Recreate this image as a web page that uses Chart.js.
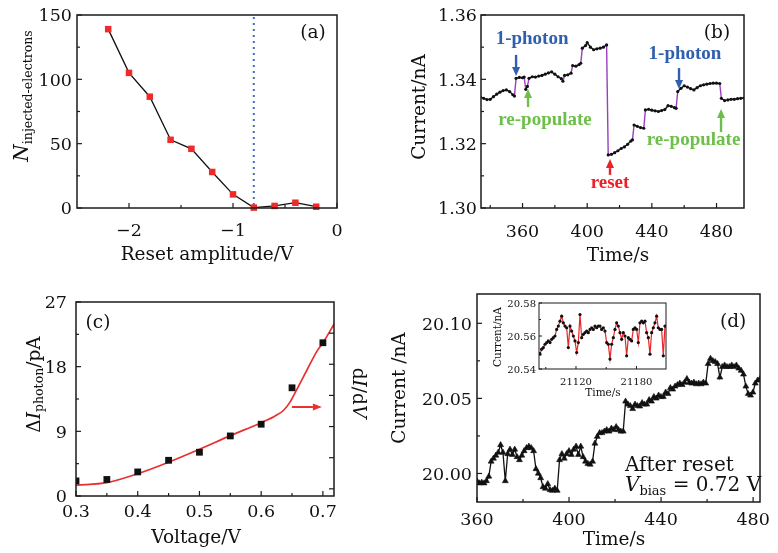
<!DOCTYPE html>
<html><head><meta charset="utf-8">
<script src="https://cdn.jsdelivr.net/npm/chart.js@4.4.0/dist/chart.umd.min.js"></script>
<style>
html,body{margin:0;padding:0;background:#fff;width:778px;height:553px;overflow:hidden}
canvas{position:absolute;left:0;top:0;width:778px;height:553px}
</style></head><body>
<canvas id="ca" width="778" height="553"></canvas>
<canvas id="cb" width="778" height="553"></canvas>
<canvas id="cc" width="778" height="553"></canvas>
<canvas id="cd" width="778" height="553"></canvas>
<canvas id="ci" width="778" height="553"></canvas>
<script>
// ---------- Panel (a) ----------
const aResetAmplitude = [-2.2,-2.0,-1.8,-1.6,-1.4,-1.2,-1.0,-0.8,-0.6,-0.4,-0.2];
const aInjectedElectrons = [139,105,86.5,53,46,28,10.6,0.3,1.6,4.1,1.0];
const aThresholdVoltage = -0.8;
const aXTicks = [-2,-1,0];
const aXTickLabels = ['\u22122','\u22121','0'];
const aYTicks = [0,50,100,150];
const aYTickLabels = ['0','50','100','150'];

// ---------- Panel (b) ----------
const bTime = [334,336,338,340,342,344,346,348,350,352,354,355,356,358,360,361,362,363,364,366,368,370,372,374,376,378,380,382,384,385,386,388,390,391,393,395,396,397,399,400,402,404,406,408,410,412,413,415,417,419,421,423,425,427,428,429,431,433,435,436,438,440,442,444,446,448,450,452,454,455,456,458,460,462,464,466,468,470,472,474,476,478,480,482,483,485,487,489,491,493,495,497];
const bCurrent = [1.3345,1.3341,1.3337,1.3338,1.3346,1.3354,1.3360,1.3365,1.3367,1.3362,1.3352,1.3348,1.3403,1.3406,1.3405,1.3407,1.3369,1.3378,1.3403,1.3408,1.3407,1.3410,1.3412,1.3416,1.3420,1.3423,1.3416,1.3408,1.3402,1.3394,1.3412,1.3414,1.3419,1.3443,1.3441,1.3446,1.3450,1.3497,1.3505,1.3514,1.3500,1.3492,1.3495,1.3497,1.3500,1.3507,1.3165,1.3167,1.3172,1.3178,1.3185,1.3190,1.3198,1.3208,1.3212,1.3258,1.3254,1.3250,1.3248,1.3305,1.3307,1.3304,1.3302,1.3300,1.3303,1.3306,1.3318,1.3316,1.3312,1.3310,1.3362,1.3372,1.3380,1.3376,1.3371,1.3367,1.3374,1.3380,1.3383,1.3385,1.3387,1.3388,1.3388,1.3387,1.3341,1.3334,1.3336,1.3338,1.3338,1.3340,1.3341,1.3342];
const bXTicks = [360,400,440,480];
const bXTickLabels = ['360','400','440','480'];
const bYTicks = [1.30,1.32,1.34,1.36];
const bYTickLabels = ['1.30','1.32','1.34','1.36'];
const bJumpThreshold = 0.0015;

// ---------- Panel (c) ----------
const cVoltage = [0.30,0.35,0.40,0.45,0.50,0.55,0.60,0.65,0.70];
const cDeltaIPhoton = [2.1,2.3,3.35,4.97,6.09,8.36,9.99,15.06,21.33];
const cFitVoltage = [0.30,0.35,0.40,0.45,0.50,0.55,0.60,0.622,0.636,0.647,0.657,0.674,0.690,0.700,0.720];
const cDIdV = [1.5,1.86,3.1,4.7,6.5,8.4,10.2,11.1,11.9,13.1,14.7,17.5,20.1,21.3,24.2];
const cXTicks = [0.3,0.4,0.5,0.6,0.7];
const cXTickLabels = ['0.3','0.4','0.5','0.6','0.7'];
const cYTicks = [0,9,18,27];
const cYTickLabels = ['0','9','18','27'];
const cRightTicks = [0,1,2,3,4,5];

// ---------- Panel (d) ----------
const dTimeStart = 360, dTimeStep = 1.025;
const dCurrent = [19.995,19.9935,19.994,19.9935,19.995,19.998,20.008,20.010,20.012,20.014,
20.019,20.014,19.995,20.013,20.016,20.0125,20.016,20.011,20.009,20.012,
20.015,20.017,20.018,20.017,20.015,20.003,20.000,19.997,19.991,19.990,
19.993,19.989,19.9886,19.990,19.9886,20.009,20.013,20.010,20.013,20.015,
20.0125,20.016,20.018,20.0125,20.018,20.011,20.008,20.0065,20.006,20.008,
20.020,20.0245,20.027,20.027,20.028,20.029,20.028,20.030,20.029,20.031,
20.029,20.028,20.028,20.048,20.046,20.045,20.043,20.046,20.045,20.0447,
20.047,20.046,20.046,20.049,20.048,20.051,20.050,20.052,20.051,20.051,
20.054,20.053,20.057,20.056,20.058,20.059,20.060,20.059,20.0606,20.063,
20.0606,20.060,20.0606,20.0595,20.060,20.0595,20.0606,20.060,20.073,20.0765,
20.075,20.0743,20.073,20.064,20.071,20.072,20.071,20.071,20.072,20.071,
20.072,20.070,20.0685,20.066,20.058,20.053,20.052,20.054,20.060,20.062,
20.063];
const dXTicks = [360,400,440,480];
const dXTickLabels = ['360','400','440','480'];
const dYTicks = [20.00,20.05,20.10];
const dYTickLabels = ['20.00','20.05','20.10'];

// ---------- Inset of (d) ----------
const insetTimeStart = 21084.3, insetTimeStep = 1.653;
const insetCurrent = [20.549,20.552,20.553,20.555,20.556,20.557,20.556,20.558,20.559,20.560,
20.564,20.566,20.569,20.572,20.568,20.566,20.565,20.553,20.566,20.563,
20.560,20.557,20.550,20.556,20.573,20.559,20.561,20.562,20.563,20.562,
20.564,20.565,20.564,20.566,20.565,20.566,20.566,20.564,20.565,20.563,
20.556,20.555,20.546,20.555,20.559,20.564,20.568,20.566,20.562,20.558,
20.562,20.560,20.548,20.559,20.558,20.557,20.564,20.565,20.564,20.556,
20.568,20.569,20.568,20.569,20.562,20.559,20.549,20.562,20.565,20.568,
20.572,20.565,20.564,20.564,20.548,20.566];
const iXTicks = [21120,21180];
const iXTickLabels = ['21120','21180'];
const iYTicks = [20.54,20.56,20.58];
const iYTickLabels = ['20.54','20.56','20.58'];

// ================= drawing helpers =================
const W = 778, H = 553;
const MAIN = '"DejaVu Serif", serif';
const BOLD = '"Liberation Serif", serif';
const BLUE = '#2f5fae', GREEN = '#6cbf4a', RED = '#ec2028', PURPLE = '#9a3fc0';

function fnt(p){ return `${p.style||''} ${p.weight||''} ${p.size||18.5}px ${p.family||MAIN}`; }
function rich(ctx, parts, x, y, o={}){
  ctx.save(); ctx.translate(x,y); if(o.rot) ctx.rotate(o.rot);
  ctx.textAlign='left'; ctx.textBaseline='alphabetic';
  const ws = parts.map(p=>{ ctx.font=fnt(p); return ctx.measureText(p.t).width; });
  const tot = ws.reduce((s,w)=>s+w,0);
  let cx = o.align==='left' ? 0 : o.align==='right' ? -tot : -tot/2;
  parts.forEach((p,i)=>{ ctx.font=fnt(p); ctx.fillStyle=p.color||o.color||'#111'; ctx.fillText(p.t,cx,p.dy||0); cx+=ws[i]; });
  ctx.restore();
}
function label(ctx,t,x,y,o={}){ rich(ctx,[{t,size:o.size,style:o.style,weight:o.weight,family:o.family,color:o.color}],x,y,o); }
function arrow(ctx,x1,y1,x2,y2,color,w=2.4,hl=9,hw=8){
  const ang=Math.atan2(y2-y1,x2-x1);
  const bx=x2-hl*Math.cos(ang), by=y2-hl*Math.sin(ang);
  ctx.save(); ctx.strokeStyle=color; ctx.fillStyle=color; ctx.lineWidth=w;
  ctx.beginPath(); ctx.moveTo(x1,y1); ctx.lineTo(bx,by); ctx.stroke();
  ctx.beginPath(); ctx.moveTo(x2,y2);
  ctx.lineTo(bx+hw/2*Math.sin(ang), by-hw/2*Math.cos(ang));
  ctx.lineTo(bx-hw/2*Math.sin(ang), by+hw/2*Math.cos(ang));
  ctx.closePath(); ctx.fill(); ctx.restore();
}
function decor(chart, c){
  const ctx=chart.ctx, a=chart.chartArea, xs=chart.scales.x, ys=chart.scales.y;
  ctx.save();
  ctx.strokeStyle='#1b1b1b';
  ctx.lineWidth=c.tickWidth||1.2;
  const seg=(x1,y1,x2,y2)=>{ctx.beginPath();ctx.moveTo(x1,y1);ctx.lineTo(x2,y2);ctx.stroke();};
  const maj=c.major||5, mnr=c.minor||3;
  c.xMajor.forEach(v=>{const p=xs.getPixelForValue(v); seg(p,a.bottom,p,a.bottom-maj);});
  (c.xMinor||[]).forEach(v=>{const p=xs.getPixelForValue(v); seg(p,a.bottom,p,a.bottom-mnr);});
  c.yMajor.forEach(v=>{const p=ys.getPixelForValue(v); seg(a.left,p,a.left+maj,p);});
  (c.yMinor||[]).forEach(v=>{const p=ys.getPixelForValue(v); seg(a.left,p,a.left+mnr,p);});
  ctx.lineWidth=c.frameWidth||1.5;
  ctx.strokeRect(a.left,a.top,a.right-a.left,a.bottom-a.top);
  ctx.restore();
  c.xMajor.forEach((v,i)=>label(ctx,c.xLabels[i],xs.getPixelForValue(v),c.xLabelBase,{size:c.tickSize}));
  c.yMajor.forEach((v,i)=>label(ctx,c.yLabels[i],c.yLabelRight,ys.getPixelForValue(v)+c.tickSize*0.36,{size:c.tickSize,align:'right'}));
}
function opts(ar, scales){
  return {responsive:false, animation:false, devicePixelRatio:1, events:[],
    layout:{padding:{left:ar.l, top:ar.t, right:W-ar.r, bottom:H-ar.b}},
    plugins:{legend:{display:false}, tooltip:{enabled:false}}, scales};
}
const pts=(xs,ys)=>xs.map((x,i)=>({x,y:ys[i]}));

// ================= (a) =================
new Chart(document.getElementById('ca'), {
  type:'line',
  data:{datasets:[{data:pts(aResetAmplitude,aInjectedElectrons), borderColor:'#111', borderWidth:1.3,
    pointStyle:'rect', pointRadius:4.6, pointBackgroundColor:'#ee2a2a', pointBorderColor:'#ee2a2a', pointBorderWidth:0, clip:8}]},
  options: opts({l:77,t:15,r:337,b:208}, {
    x:{type:'linear', display:false, min:-2.5, max:0},
    y:{type:'linear', display:false, min:0, max:150}}),
  plugins:[{id:'pa',
    beforeDatasetsDraw(ch){
      const ctx=ch.ctx, a=ch.chartArea, x=ch.scales.x.getPixelForValue(aThresholdVoltage);
      ctx.save(); ctx.strokeStyle='#4169c9'; ctx.lineWidth=2; ctx.setLineDash([2,4]);
      ctx.beginPath(); ctx.moveTo(x,a.top+2); ctx.lineTo(x,a.bottom); ctx.stroke(); ctx.restore();
    },
    afterDraw(ch){
      const ctx=ch.ctx;
      decor(ch,{xMajor:aXTicks,xLabels:aXTickLabels,xMinor:[-1.5,-0.5],yMajor:aYTicks,yLabels:aYTickLabels,yMinor:[25,75,125],
        xLabelBase:235.5,yLabelRight:72,tickSize:17.5});
      label(ctx,'Reset amplitude/V',207,260,{size:18.5});
      rich(ctx,[{t:'N',style:'italic',size:20},{t:'injected-electrons',size:12.5,dy:4}],28,96,{rot:-Math.PI/2});
      label(ctx,'(a)',313,38,{size:18.5});
    }}]
});

// ================= (b) =================
new Chart(document.getElementById('cb'), {
  type:'line',
  data:{datasets:[{data:pts(bTime,bCurrent), borderColor:'#111', borderWidth:1.4,
    segment:{borderColor:c=>Math.abs(c.p1.parsed.y-c.p0.parsed.y)>bJumpThreshold?PURPLE:'#111'},
    pointRadius:1.6, pointBackgroundColor:'#111', pointBorderWidth:0}]},
  options: opts({l:481,t:15,r:744,b:208}, {
    x:{type:'linear', display:false, min:334.3, max:497},
    y:{type:'linear', display:false, min:1.30, max:1.36}}),
  plugins:[{id:'pb', afterDraw(ch){
    const ctx=ch.ctx, X=v=>ch.scales.x.getPixelForValue(v), Y=v=>ch.scales.y.getPixelForValue(v);
    decor(ch,{xMajor:bXTicks,xLabels:bXTickLabels,xMinor:[340,380,420,460],yMajor:bYTicks,yLabels:bYTickLabels,yMinor:[1.31,1.33,1.35],
      xLabelBase:236.5,yLabelRight:477,tickSize:17.5});
    label(ctx,'Time/s',618,261,{size:18.5});
    label(ctx,'Current/nA',425,107,{size:18.5,rot:-Math.PI/2});
    label(ctx,'(b)',717,38,{size:18.5});
    arrow(ctx,X(356.0),Y(1.3476),X(356.0),Y(1.3410),BLUE);
    arrow(ctx,X(363.4),Y(1.3314),X(363.4),Y(1.3370),GREEN);
    arrow(ctx,X(414.1),Y(1.3103),X(414.1),Y(1.3152),RED);
    arrow(ctx,X(456.8),Y(1.3435),X(456.8),Y(1.3370),BLUE);
    arrow(ctx,X(482.8),Y(1.3236),X(482.8),Y(1.3308),GREEN);
    const bf={size:19,weight:'bold',family:BOLD};
    label(ctx,'1-photon',X(365.9),Y(1.3510),{...bf,color:BLUE});
    label(ctx,'re-populate',X(373.9),Y(1.3258),{...bf,color:GREEN});
    label(ctx,'reset',X(414.1),Y(1.3062),{...bf,color:RED});
    label(ctx,'1-photon',X(460.5),Y(1.3463),{...bf,color:BLUE});
    label(ctx,'re-populate',X(465.8),Y(1.3196),{...bf,color:GREEN});
  }}]
});

// ================= (c) =================
new Chart(document.getElementById('cc'), {
  type:'line',
  data:{datasets:[
    {data:pts(cVoltage,cDeltaIPhoton), showLine:false, pointStyle:'rect', pointRadius:4.8,
      pointBackgroundColor:'#111', pointBorderColor:'#111', pointBorderWidth:0},
    {data:pts(cFitVoltage,cDIdV), borderColor:'#e8302e', borderWidth:1.7, pointRadius:0, cubicInterpolationMode:'monotone'}]},
  options: opts({l:76,t:302,r:334,b:496}, {
    x:{type:'linear', display:false, min:0.3, max:0.718},
    y:{type:'linear', display:false, min:0, max:27},
    y2:{type:'linear', display:false, position:'right', min:-0.23, max:6}}),
  plugins:[{id:'pc', afterDraw(ch){
    const ctx=ch.ctx, a=ch.chartArea, X=v=>ch.scales.x.getPixelForValue(v), Y=v=>ch.scales.y.getPixelForValue(v);
    decor(ch,{xMajor:cXTicks,xLabels:cXTickLabels,xMinor:[0.35,0.45,0.55,0.65],yMajor:cYTicks,yLabels:cYTickLabels,yMinor:[4.5,13.5,22.5],
      xLabelBase:517,yLabelRight:67,tickSize:17.5});
    ctx.save(); ctx.strokeStyle='#1b1b1b'; ctx.lineWidth=1.2;
    cRightTicks.forEach(v=>{const p=ch.scales.y2.getPixelForValue(v); ctx.beginPath(); ctx.moveTo(a.right,p); ctx.lineTo(a.right-5,p); ctx.stroke();});
    ctx.restore();
    label(ctx,'Voltage/V',196,543,{size:18.5});
    rich(ctx,[{t:'\u0394',size:18.5},{t:'I',style:'italic',size:18.5},{t:'photon',size:12.5,dy:3},{t:'/pA',size:18.5}],40,384.5,{rot:-Math.PI/2});
    rich(ctx,[{t:'d',size:18.5},{t:'I',style:'italic',size:18.5},{t:'/d',size:18.5},{t:'V',style:'italic',size:18.5}],353,393,{rot:Math.PI/2});
    label(ctx,'(c)',98,328,{size:18.5});
    arrow(ctx,X(0.6498),Y(12.39),X(0.6984),Y(12.39),'#e8322e',2,9,7);
  }}]
});

// ================= (d) =================
new Chart(document.getElementById('cd'), {
  type:'line',
  data:{datasets:[{data:dCurrent.map((y,i)=>({x:dTimeStart+i*dTimeStep,y})), borderColor:'#111', borderWidth:1.3,
    pointStyle:'triangle', pointRadius:3.4, pointBackgroundColor:'#111', pointBorderColor:'#111', pointBorderWidth:0.6}]},
  options: opts({l:477,t:294,r:760,b:502}, {
    x:{type:'linear', display:false, min:360, max:483},
    y:{type:'linear', display:false, min:19.981, max:20.1195}}),
  plugins:[{id:'pd', afterDraw(ch){
    const ctx=ch.ctx, X=v=>ch.scales.x.getPixelForValue(v), Y=v=>ch.scales.y.getPixelForValue(v);
    decor(ch,{xMajor:dXTicks,xLabels:dXTickLabels,xMinor:[380,420,460],yMajor:dYTicks,yLabels:dYTickLabels,yMinor:[20.025,20.075],
      xLabelBase:525,yLabelRight:472,tickSize:17.5});
    label(ctx,'Time/s',614,545,{size:18.5});
    label(ctx,'Current /nA',405,388,{size:18.5,rot:-Math.PI/2});
    label(ctx,'(d)',X(471.3),Y(20.0975),{size:18.5});
    label(ctx,'After reset',X(424.3),Y(20.0015),{size:20,align:'left'});
    rich(ctx,[{t:'V',style:'italic',size:20},{t:'bias',size:13,dy:4},{t:' = 0.72 V',size:20}],X(424.3),Y(19.9882),{align:'left'});
  }}]
});

// ================= inset =================
new Chart(document.getElementById('ci'), {
  type:'line',
  data:{datasets:[{data:insetCurrent.map((y,i)=>({x:insetTimeStart+i*insetTimeStep,y})), borderColor:'#e8262a', borderWidth:1.2,
    pointRadius:1.6, pointBackgroundColor:'#111', pointBorderWidth:0}]},
  options: opts({l:539,t:303,r:666,b:369}, {
    x:{type:'linear', display:false, min:21083.3, max:21209.3},
    y:{type:'linear', display:false, min:20.54, max:20.58}}),
  plugins:[{id:'pi',
    beforeDraw(ch){const a=ch.chartArea; ch.ctx.save(); ch.ctx.fillStyle='#fff'; ch.ctx.fillRect(a.left,a.top,a.right-a.left,a.bottom-a.top); ch.ctx.restore();},
    afterDraw(ch){
      const ctx=ch.ctx;
      decor(ch,{xMajor:iXTicks,xLabels:iXTickLabels,xMinor:[21090,21150],yMajor:iYTicks,yLabels:iYTickLabels,yMinor:[20.55,20.57],
        xLabelBase:384.5,yLabelRight:536,tickSize:10,major:3,minor:2,frameWidth:1,tickWidth:1});
      label(ctx,'Time/s',603,396,{size:10.5});
      label(ctx,'Current/nA',501,337,{size:10.5,rot:-Math.PI/2});
    }}]
});
</script>
</body></html>
